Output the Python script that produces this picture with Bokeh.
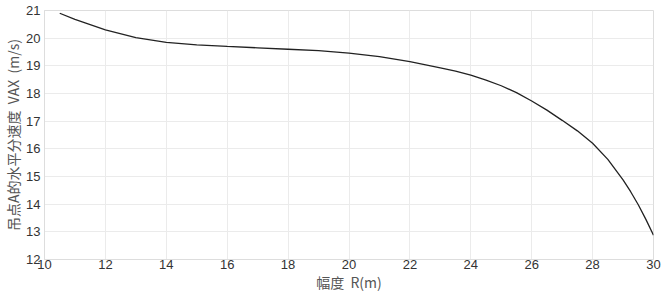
from bokeh.plotting import figure
from bokeh.models import Range1d, FixedTicker
from bokeh.embed import file_html
from bokeh.resources import INLINE

# data
R = [10.5, 11, 12, 13, 14, 15, 16, 17, 18, 19, 20, 21, 22, 23, 23.5, 24, 24.5, 25, 25.5,
     26, 26.5, 27, 27.5, 28, 28.5, 29, 29.25, 29.5, 29.75, 30]
VAX = [20.9, 20.68, 20.3, 20.02, 19.85, 19.76, 19.7, 19.65, 19.6, 19.55, 19.46, 19.33,
       19.15, 18.93, 18.81, 18.66, 18.48, 18.28, 18.03, 17.73, 17.40, 17.03, 16.65, 16.2,
       15.62, 14.88, 14.45, 13.98, 13.45, 12.88]
x_ticks = [10, 12, 14, 16, 18, 20, 22, 24, 26, 28, 30]
y_ticks = [12, 13, 14, 15, 16, 17, 18, 19, 20, 21]

p = figure(width=661, height=294, output_backend="svg", toolbar_location=None,
           x_range=Range1d(10, 30), y_range=Range1d(12, 21),
           min_border_top=10, min_border_right=8, min_border_left=10, min_border_bottom=0)

p.line(R, VAX, line_color="#222222", line_width=1.3)

p.outline_line_color = "#dddddd"
p.background_fill_color = "white"
p.border_fill_color = "white"

for ax in (p.xaxis[0], p.yaxis[0]):
    ax.axis_line_color = "#dddddd"
    ax.major_tick_line_color = None
    ax.minor_tick_line_color = None
    ax.major_tick_out = 0
    ax.major_tick_in = 0
    ax.minor_tick_out = 0
    ax.major_label_text_font = "Liberation Sans"
    ax.major_label_text_font_size = "13px"
    ax.major_label_text_color = "#333333"
    ax.axis_label_text_font = "Noto Sans CJK SC"
    ax.axis_label_text_font_size = "14px"
    ax.axis_label_text_font_style = "normal"
    ax.axis_label_text_color = "#555555"

p.xaxis[0].ticker = FixedTicker(ticks=x_ticks)
p.yaxis[0].ticker = FixedTicker(ticks=y_ticks)
p.xaxis[0].axis_label = "幅度\u00a0\u00a0R(m)"
p.yaxis[0].axis_label = "吊点A的水平分速度\u00a0\u00a0VAX\u00a0\u00a0(m/s)"
p.xaxis[0].axis_label_standoff = 0
p.yaxis[0].axis_label_standoff = 0
p.xaxis[0].major_label_standoff = 0
p.yaxis[0].major_label_standoff = 4

p.xgrid.grid_line_color = "#ebebeb"
p.ygrid.grid_line_color = "#ebebeb"
p.xgrid.ticker = FixedTicker(ticks=x_ticks)
p.ygrid.ticker = FixedTicker(ticks=y_ticks)

open("out.html", "w").write(file_html(p, INLINE))
